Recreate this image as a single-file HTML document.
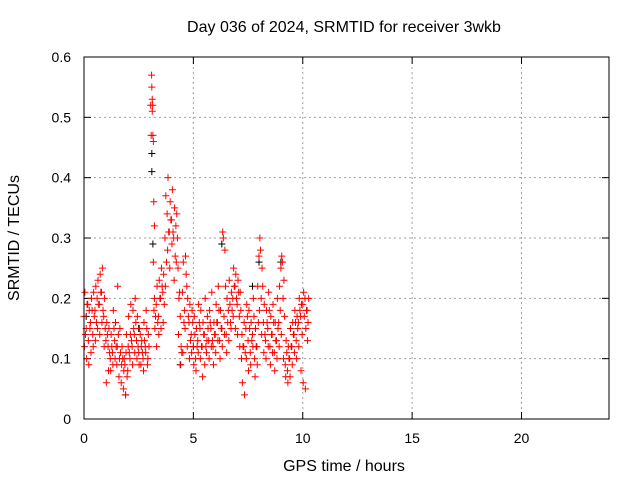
<!DOCTYPE html>
<html><head><meta charset="utf-8"><style>
body{margin:0;background:#fff;}
svg text{font-family:"Liberation Sans",sans-serif;font-size:14px;fill:#000;}
svg text.big{font-size:16px;}
</style></head><body>
<svg id="chart" width="640" height="480">
<rect width="640" height="480" fill="#fff"/>
<g id="grid"></g><g id="ticks"></g><g id="pts"></g>
<rect x="84" y="57" width="525" height="362" fill="none" stroke="#000" stroke-width="1"/>
<text class="big" x="344" y="32" text-anchor="middle">Day 036 of 2024, SRMTID for receiver 3wkb</text>
<text class="big" x="344" y="471" text-anchor="middle">GPS time / hours</text>
<text class="big" transform="translate(19,238) rotate(-90)" text-anchor="middle">SRMTID / TECUs</text>
</svg>
<script>
const xTicks=[0,5,10,15,20];
const yTicks=[0,0.1,0.2,0.3,0.4,0.5,0.6];
const yTickLabels=["0","0.1","0.2","0.3","0.4","0.5","0.6"];
const times=[0,0.1,0.2,0.3,0.4,0.5,0.6,0.7,0.8,0.9,1.0,1.1,1.2,1.3,1.4,1.5,1.6,1.7,1.8,1.9,2.0,2.1,2.2,2.3,2.4,2.5,2.6,2.7,2.8,2.9,3.05,3.1,3.15,3.2,3.3,3.4,3.5,3.6,3.7,3.8,3.9,4.0,4.1,4.2,4.3,4.4,4.5,4.6,4.7,4.8,4.9,5.0,5.1,5.2,5.3,5.4,5.5,5.6,5.7,5.8,5.9,6.0,6.1,6.2,6.3,6.4,6.5,6.6,6.7,6.8,6.9,7.0,7.1,7.2,7.3,7.4,7.5,7.6,7.7,7.8,7.9,8.0,8.1,8.2,8.3,8.4,8.5,8.6,8.7,8.8,8.9,9.0,9.1,9.2,9.3,9.4,9.5,9.6,9.7,9.8,9.9,10.0,10.1,10.2];
const valsA=[.17,.15,.13,.16,.14,.18,.20,.19,.21,.17,.13,.12,.10,.11,.13,.09,.07,.06,.05,.04,.08,.10,.12,.14,.13,.11,.09,.10,.12,.09,.52,.55,.47,.18,.19,.17,.20,.21,.30,.34,.31,.33,.30,.32,.25,.17,.21,.18,.22,.16,.14,.12,.10,.13,.15,.12,.14,.11,.13,.15,.12,.14,.16,.13,.15,.17,.14,.18,.16,.20,.22,.19,.17,.10,.12,.15,.13,.11,.14,.10,.12,.27,.20,.16,.13,.15,.12,.14,.11,.13,.16,.25,.20,.09,.08,.10,.12,.14,.13,.16,.17,.19,.20,.18];
const valsB=[.21,.19,.18,.20,.21,.22,.23,.24,.25,.20,.16,.15,.14,.18,.16,.22,.15,.12,.10,.14,.17,.19,.18,.20,.17,.15,.13,.16,.18,.14,.57,.52,.36,.15,.22,.23,.25,.24,.37,.40,.36,.38,.35,.34,.20,.12,.26,.27,.20,.19,.18,.17,.15,.19,.18,.16,.20,.17,.18,.21,.16,.19,.22,.18,.31,.28,.20,.23,.21,.25,.24,.23,.21,.06,.04,.19,.18,.16,.20,.15,.22,.30,.25,.19,.18,.21,.17,.19,.16,.20,.22,.27,.23,.13,.12,.15,.16,.18,.17,.20,.19,.21,.15,.16];
const valsC=[.12,.10,.09,.11,.12,.13,.15,.14,.16,.12,.06,.08,.08,.09,.10,.12,.10,.09,.08,.11,.12,.14,.09,.11,.10,.09,.12,.08,.11,.10,.47,.51,.26,.20,.12,.14,.15,.16,.22,.28,.25,.29,.23,.26,.14,.09,.11,.15,.12,.10,.11,.09,.08,.11,.10,.07,.09,.13,.10,.12,.09,.11,.13,.10,.12,.14,.11,.13,.15,.17,.15,.14,.12,.14,.16,.10,.08,.09,.12,.07,.09,.18,.14,.11,.10,.12,.09,.11,.08,.10,.12,.14,.10,.07,.06,.07,.09,.11,.10,.12,.08,.06,.05,.13];
const valsD=[.14,.19,.15,.18,.17,.16,.19,.21,.18,.15,.14,.11,.12,.15,.12,.14,.11,.10,.09,.07,.11,.13,.15,.16,.12,.14,.11,.13,.15,.12,.53,.46,.32,.17,.16,.20,.22,.19,.26,.31,.33,.31,.27,.30,.21,.11,.16,.24,.17,.13,.16,.14,.12,.16,.12,.14,.12,.15,.16,.13,.14,.16,.18,.15,.30,.22,.16,.19,.18,.22,.20,.21,.18,.12,.11,.17,.15,.13,.17,.12,.16,.28,.22,.14,.16,.18,.14,.16,.13,.15,.18,.26,.17,.11,.10,.12,.14,.16,.15,.18,.14,.17,.18,.20];
const blackTimes=[0.1,1.9,2.5,3.1,3.1,3.15,4.4,5.0,6.3,7.7,8.0,9.0];
const blackVals=[.17,.04,.15,.44,.41,.29,.09,.12,.29,.22,.26,.26];
const NS="http://www.w3.org/2000/svg";
const xs=t=>84+t*525/24, ys=v=>419-v*362/0.6;
const grid=document.getElementById('grid'),ticks=document.getElementById('ticks'),pts=document.getElementById('pts');
function ln(g,x1,y1,x2,y2,st,dash){const l=document.createElementNS(NS,'line');l.setAttribute('x1',x1);l.setAttribute('y1',y1);l.setAttribute('x2',x2);l.setAttribute('y2',y2);l.setAttribute('stroke',st);if(dash)l.setAttribute('stroke-dasharray',dash);g.appendChild(l);return l;}
function tx(x,y,s,a){const t=document.createElementNS(NS,'text');t.setAttribute('x',x);t.setAttribute('y',y);t.setAttribute('text-anchor',a);t.textContent=s;ticks.appendChild(t);return t;}
xTicks.forEach(v=>{const x=xs(v);
 if(v>0){const g=ln(grid,x,57,x,419,'#a0a0a0','2,3');}
 ln(ticks,x,419,x,412,'#000');ln(ticks,x,57,x,64,'#000');
 const t=tx(x,443,String(v),'middle');
 
 });
yTicks.forEach((v,i)=>{const y=ys(v);
 if(v>0&&v<0.6){const g=ln(grid,84,y,609,y,'#a0a0a0','2,3');}
 ln(ticks,84,y,91,y,'#000');ln(ticks,609,y,602,y,'#000');
 const t=tx(71,y+5,yTickLabels[i],'end');
 
 });
function plus(t,v,c,name){const x=xs(t),y=ys(v);const g=document.createElementNS(NS,'path');
 g.setAttribute('d',`M${x-3.5},${y}H${x+3.5}M${x},${y-3.5}V${y+3.5}`);g.setAttribute('stroke',c);g.setAttribute('stroke-width','1');
 
 
 pts.appendChild(g);}
blackTimes.forEach((t,i)=>plus(t,blackVals[i],'#000','black-point'));
times.forEach((t,i)=>{plus(t,valsA[i],'#f00','red-point');plus(t+0.04,valsB[i],'#f00','red-point');plus(t+0.02,valsC[i],'#f00','red-point');plus(t+0.07,valsD[i],'#f00','red-point');});
</script>
</body></html>
